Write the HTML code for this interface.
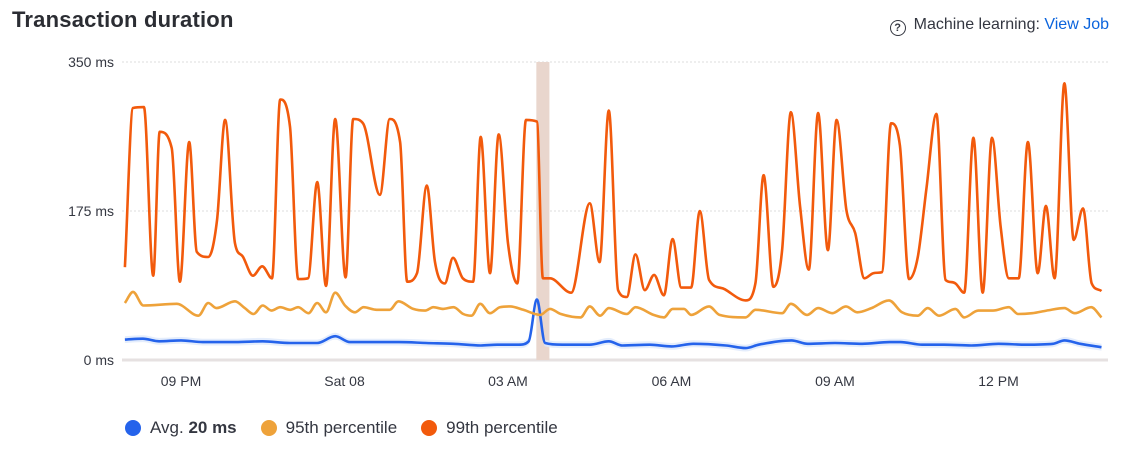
<!DOCTYPE html>
<html><head><meta charset="utf-8"><style>
body{margin:0;background:#fff;font-family:"Liberation Sans",sans-serif;}
#wrap{position:relative;width:1125px;height:453px;overflow:hidden;}
.title{position:absolute;left:12px;top:7px;font-size:22px;font-weight:bold;color:#2b2d33;letter-spacing:0.2px;}
.ml{position:absolute;right:16px;top:16px;font-size:16px;color:#343741;}
.ml a{color:#0b64dd;text-decoration:none;}
.q{display:inline-block;width:14px;height:14px;border:1.6px solid #343741;border-radius:50%;font-size:11px;text-align:center;line-height:14px;font-weight:bold;margin-right:8px;vertical-align:-2px;}
.legend{position:absolute;top:418px;left:125px;font-size:17px;color:#343741;display:flex;}
.li{display:flex;align-items:center;margin-right:24px;}
.dot{width:16px;height:16px;border-radius:50%;margin-right:9px;}
</style></head><body>
<div id="wrap">
<div class="title">Transaction duration</div>
<div class="ml"><span class="q">?</span>Machine learning: <a>View Job</a></div>
<svg id="chart" width="1125" height="453" style="position:absolute;left:0;top:0"></svg>
<div class="legend">
<div class="li"><span class="dot" style="background:#2563eb"></span>Avg.&nbsp;<b>20 ms</b></div>
<div class="li"><span class="dot" style="background:#eea23a"></span>95th percentile</div>
<div class="li"><span class="dot" style="background:#f25a0c"></span>99th percentile</div>
</div>
</div>
<script>
const yTicks=[0,175,350];
const yTickLabels=["0 ms","175 ms","350 ms"];
const xTicks=[21,24,27,30,33,36];
const xTickLabels=["09 PM","Sat 08","03 AM","06 AM","09 AM","12 PM"];
const anomalyRange=[27.52,27.76];
const p99Times=[19.97,20.12,20.32,20.49,20.61,20.83,20.98,21.15,21.29,21.50,21.66,21.81,21.99,22.14,22.32,22.49,22.67,22.82,23.00,23.15,23.33,23.50,23.66,23.83,24.02,24.16,24.34,24.65,24.83,25.02,25.15,25.33,25.51,25.66,25.84,25.99,26.17,26.36,26.50,26.67,26.83,27.00,27.17,27.33,27.53,27.64,27.77,28.16,28.50,28.68,28.85,29.02,29.18,29.34,29.51,29.68,29.86,30.02,30.18,30.36,30.52,30.69,30.98,31.36,31.54,31.69,31.87,32.03,32.19,32.36,32.52,32.69,32.87,33.03,33.21,33.37,33.54,33.70,33.86,34.03,34.19,34.36,34.52,34.68,34.86,35.03,35.21,35.37,35.54,35.71,35.88,36.04,36.19,36.37,36.54,36.72,36.87,37.03,37.21,37.38,37.55,37.71,37.89];
const p99Values=[109,296,297,99,268,249,92,256,127,121,164,282,137,121,99,110,96,306,274,95,96,209,87,283,97,283,278,194,283,256,92,102,205,115,90,120,96,92,262,102,265,137,90,282,280,96,96,79,184,115,293,82,74,124,82,100,76,142,85,85,175,94,83,70,90,217,86,129,291,180,106,290,129,282,176,149,96,102,103,278,252,95,121,203,289,94,90,79,261,79,261,156,96,96,256,102,181,96,325,141,178,90,81];
const p95Times=[19.97,20.12,20.31,20.92,21.32,21.50,21.65,21.99,22.17,22.33,22.50,22.66,22.82,23.00,23.15,23.34,23.50,23.66,23.83,24.01,24.19,24.35,24.59,24.83,24.99,25.26,25.48,25.63,25.81,26.00,26.18,26.33,26.49,26.67,26.85,27.04,27.28,27.59,27.77,27.97,28.33,28.50,28.69,28.85,29.18,29.34,29.67,29.86,30.02,30.23,30.36,30.69,30.88,31.36,31.54,32.03,32.19,32.49,32.69,32.95,33.20,33.41,33.67,33.99,34.23,34.52,34.70,34.91,35.21,35.37,35.63,35.90,36.19,36.36,36.62,36.88,37.21,37.40,37.70,37.89];
const p95Values=[67,80,64,66,52,67,61,69,61,54,64,58,62,59,62,55,67,56,79,64,56,62,59,59,69,60,58,62,60,62,54,52,66,55,62,63,59,53,60,54,50,63,52,61,54,62,53,50,60,60,53,63,53,50,59,55,66,53,61,55,63,56,61,70,56,52,61,52,60,50,58,58,62,54,55,58,61,55,62,50];
const avgTimes=[19.97,20.3,20.6,21.0,21.4,22.0,22.5,23.0,23.5,23.83,24.1,25.0,25.5,26.0,26.5,26.8,27.2,27.38,27.53,27.68,28.0,28.5,28.85,29.1,29.6,30.0,30.4,31.0,31.36,31.6,32.2,32.5,33.0,33.5,34.0,34.2,34.6,35.0,35.5,36.0,36.5,37.0,37.21,37.5,37.89];
const avgValues=[24,25,22,23,21,21,22,20,20,28,21,21,20,19,17,18,18,22,71,20,18,18,22,17,18,16,19,17,14,18,23,19,20,19,21,21,18,18,17,19,18,19,23,19,15];

const NS="http://www.w3.org/2000/svg";
const svg=document.getElementById('chart');
const X0=122,X1=1108,Y0=360,Y1=62;
const T0=21-(181-X0)/54.5, T1=T0+(X1-X0)/54.5;
const xs=t=>X0+(t-T0)/(T1-T0)*(X1-X0);
const ys=v=>Y0-v/350*(Y0-Y1);
function mk(tag,attrs){const e=document.createElementNS(NS,tag);for(const k in attrs)e.setAttribute(k,attrs[k]);svg.appendChild(e);return e;}
function monotone(px,py){
  const n=px.length;const d=[],m=[];
  for(let i=0;i<n-1;i++)d.push((py[i+1]-py[i])/(px[i+1]-px[i]));
  m[0]=d[0];m[n-1]=d[n-2];
  for(let i=1;i<n-1;i++){m[i]=(d[i-1]*d[i]<=0)?0:(d[i-1]+d[i])/2;
    const a=Math.min(Math.abs(m[i]),3*Math.abs(d[i-1]),3*Math.abs(d[i]));m[i]=Math.sign(m[i])*a;}
  let s="M"+px[0].toFixed(1)+","+py[0].toFixed(1);
  for(let i=0;i<n-1;i++){const h=(px[i+1]-px[i])/3;
    s+="C"+(px[i]+h).toFixed(1)+","+(py[i]+m[i]*h).toFixed(1)+" "+(px[i+1]-h).toFixed(1)+","+(py[i+1]-m[i+1]*h).toFixed(1)+" "+px[i+1].toFixed(1)+","+py[i+1].toFixed(1);}
  return s;}
yTicks.forEach((v,i)=>{
  const g=mk('line',{x1:X0,x2:X1,y1:ys(v),y2:ys(v),stroke:i==0?'#e6e1e1':'#ddd',"stroke-width":i==0?3:1,"stroke-dasharray":i==0?'':'2,2'});
  
  
  const t=mk('text',{x:114,y:ys(v)+5,"text-anchor":"end","font-size":14,fill:'#343741',"font-family":"Liberation Sans, sans-serif"});
  t.textContent=yTickLabels[i];
  
  
});
xTicks.forEach((v,i)=>{
  const t=mk('text',{x:xs(v),y:386,"text-anchor":"middle","font-size":14,fill:'#343741',"font-family":"Liberation Sans, sans-serif"});
  t.textContent=xTickLabels[i];
  
  
});
const band=mk('rect',{x:xs(anomalyRange[0]),y:Y1,width:xs(anomalyRange[1])-xs(anomalyRange[0]),height:Y0-Y1,fill:'#e9d6cd'});


const ax=avgTimes.map(xs);
const bandTop=monotone(ax,avgValues.map(v=>ys(v+4)));
const bandBot=monotone(ax.slice().reverse(),avgValues.slice().reverse().map(v=>ys(Math.max(v-4,0))));
const ab=mk('path',{d:bandTop+"L"+bandBot.slice(1)+"Z",fill:'#dde8fb',opacity:0.8});


function line(times,vals,color,name){
  const p=mk('path',{d:monotone(times.map(xs),vals.map(ys)),fill:'none',stroke:color,"stroke-width":2.6,"stroke-linejoin":"round"});
  
  
}
line(avgTimes,avgValues,'#2563eb','avg-line');
line(p95Times,p95Values,'#eea23a','p95-line');
line(p99Times,p99Values,'#f25a0c','p99-line');
</script>
</body></html>
